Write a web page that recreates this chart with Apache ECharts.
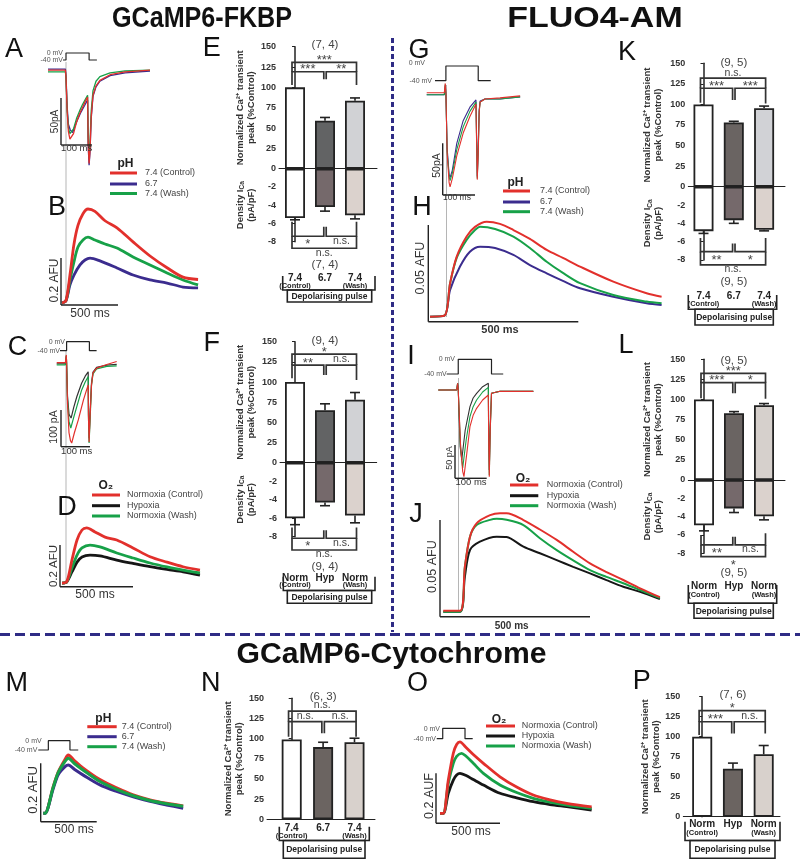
<!DOCTYPE html>
<html>
<head>
<meta charset="utf-8">
<script src="https://cdn.jsdelivr.net/npm/echarts@6.0.0/dist/echarts.min.js"></script>
<style>
html,body{margin:0;padding:0;background:#ffffff;}
#chart{width:800px;height:865px;}
</style>
</head>
<body>
<div id="chart"></div>
<script>
// ================= DATA =================
const catPH = ['7.4', '6.7', '7.4'];
const catO2 = ['Norm', 'Hyp', 'Norm'];
const catSub = ['(Control)', '', '(Wash)'];
const legPH = ['7.4 (Control)', '6.7', '7.4 (Wash)'];
const legO2 = ['Normoxia (Control)', 'Hypoxia', 'Normoxia (Wash)'];

// Bar values: normalized Ca transient peak (%Control) and I_Ca density (pA/pF), SEM
const E_ca = [100, 59, 83.5], E_caErr = [0, 4, 3.5], E_ica = [-5.4, -4.2, -5.1], E_icaErr = [0.2, 0.45, 0.4];
const F_ca = [100, 65, 78],   F_caErr = [0, 8, 9],   F_ica = [-6.0, -4.3, -5.7], F_icaErr = [0.7, 0.35, 0.8];
const K_ca = [100, 78, 95.5], K_caErr = [0, 1.5, 2.5], K_ica = [-4.85, -3.65, -4.7], K_icaErr = [0.25, 0.35, 0.12];
const L_ca = [100, 83, 93],   L_caErr = [0, 2, 2],   L_ica = [-4.95, -3.1, -3.95], L_icaErr = [0.6, 0.45, 0.4];
const N_ca = [99, 89.5, 95.5], N_caErr = [0, 6, 5];
const P_ca = [100, 60, 78],   P_caErr = [0, 7, 11];

// significance brackets [x1, x2, level, leg1End, leg2End, label]
const E_sigTop = [[-0.1,2.05,130.7,119.2,119.2,'***'],[-0.1,0.96,119.2,103,110,'***'],[1.04,2.05,119.2,110,103,'**']];
const E_sigBot = [[-0.1,0.96,-7.4,-5.8,-6.35,'*'],[1.04,2.05,-7.4,-6.35,-5.8,'n.s.'],[-0.1,2.05,-8.72,-7.4,-7.4,'n.s.']];
const E_n = [['(7, 4)', 152], ['(7, 4)', -10.55]];
const F_sigTop = [[-0.1,2.05,134.7,121,121,'*'],[-0.1,0.96,121,104.6,108.7,'**'],[1.04,2.05,121,108.7,102.5,'n.s.']];
const F_sigBot = [[-0.1,0.96,-8.17,-7.0,-7.3,'*'],[1.04,2.05,-8.17,-7.3,-7.0,'n.s.'],[-0.1,2.05,-9.44,-8.17,-8.17,'n.s.']];
const F_n = [['(9, 4)', 151], ['(9, 4)', -11.3]];
const K_sigTop = [[-0.1,2.05,131.9,119.7,119.7,'n.s.'],[-0.1,0.96,119.7,102,105.5,'***'],[1.04,2.05,119.7,105.5,101,'***']];
const K_sigBot = [[-0.1,0.96,-7.09,-5.6,-6.2,'**'],[1.04,2.05,-7.09,-6.2,-5.6,'*'],[-0.1,2.05,-8.54,-7.09,-7.09,'n.s.']];
const K_n = [['(9, 5)', 151], ['(9, 5)', -10.36]];
const L_sigTop = [[-0.1,2.05,132.5,120.9,120.9,'***'],[-0.1,0.96,120.9,101.5,107.7,'***'],[1.04,2.05,120.9,107.7,101,'*']];
const L_sigBot = [[-0.1,0.96,-7.09,-6.0,-6.2,'**'],[1.04,2.05,-7.09,-6.2,-5.8,'n.s.'],[-0.1,2.05,-8.36,-7.09,-7.09,'*']];
const L_n = [['(9, 5)', 148], ['(9, 5)', -10.17]];
const N_sigTop = [[-0.1,2.05,134.2,121,121,'n.s.'],[-0.1,0.96,121,102.4,106.6,'n.s.'],[1.04,2.05,121,106.6,102.4,'n.s.']];
const N_n = [['(6, 3)', 151.5]];
const P_sigTop = [[-0.1,2.05,132.5,118.7,118.7,'*'],[-0.1,0.96,118.7,102,104,'***'],[1.04,2.05,118.7,104,104,'n.s.']];
const P_n = [['(7, 6)', 152]];

// Traces: [time ms, current pA] or [time ms, fluorescence AFU]
const A_red = [[0,0],[58,0],[60,-8],[64,-45],[68,-66],[73,-74],[78,-76],[85,-68],[95,-56],[105,-47],[115,-40],[125,-33],[132,-29],[134,-78],[137,-100],[140,-86],[144,-50],[150,-27],[160,-17],[173,-11],[207,-5],[257,-2],[340,0]];
const A_purple = [[0,1],[58,1],[60,-6],[64,-40],[68,-58],[74,-64],[82,-67],[90,-60],[100,-52],[110,-45],[122,-38],[132,-32],[134,-82],[137,-102],[140,-88],[144,-52],[150,-28],[160,-18],[173,-12],[207,-6],[257,-3],[340,-1]];
const A_green = [[0,-2],[58,-2],[60,-9],[64,-44],[68,-62],[73,-68],[77,-70],[85,-63],[95,-52],[105,-44],[115,-37],[125,-31],[132,-27],[134,-72],[137,-93],[140,-78],[144,-44],[150,-22],[160,-12],[173,-7],[207,-3],[257,-1],[340,0]];
const A_step = [[50,-40],[60,-40],[60,0],[137,0],[137,-40],[163,-40]];

const B_red = [[0,0],[35,0.01],[70,0.12],[105,0.25],[140,0.33],[184,0.38],[228,0.40],[289,0.39],[377,0.35],[482,0.32],[623,0.26],[772,0.2],[921,0.15],[1061,0.11],[1193,0.1]];
const B_purple = [[0,0],[35,0.01],[70,0.077],[105,0.119],[158,0.162],[202,0.183],[246,0.191],[333,0.179],[482,0.149],[623,0.119],[772,0.098],[921,0.085],[1061,0.068],[1193,0.064]];
const B_green = [[0,0],[35,0.01],[70,0.098],[105,0.175],[140,0.238],[184,0.268],[228,0.28],[289,0.268],[377,0.251],[482,0.234],[623,0.196],[772,0.162],[921,0.128],[1061,0.098],[1193,0.077]];

const C_red = [[29,1],[58,1],[61,22],[62,0],[65,-110],[70,-190],[75,-212],[79,-218],[88,-190],[101,-155],[118,-101],[126,-80],[134,-60],[135,-150],[137,-215],[140,-150],[145,-60],[150,-27],[162,-14],[196,-4],[229,4]];
const C_green = [[29,-5],[58,-5],[61,20],[62,0],[65,-100],[70,-160],[76,-177],[85,-150],[96,-119],[112,-74],[124,-52],[134,-37],[135,-150],[137,-218],[140,-160],[145,-60],[150,-30],[162,-16],[196,-9],[229,-8]];
const C_black = [[29,-2],[58,-2],[61,18],[62,0],[65,-90],[70,-140],[77,-150],[86,-120],[96,-92],[112,-55],[124,-36],[134,-24],[135,-140],[137,-205],[140,-140],[145,-55],[150,-25],[162,-12],[196,-6],[229,-4]];
const C_step = [[40,-40],[62,-40],[62,0],[138,0],[138,-40],[162,-40]];

const D_red = [[0,0],[32,0.005],[68,0.11],[103,0.206],[137,0.254],[169,0.264],[226,0.245],[295,0.22],[375,0.206],[486,0.168],[603,0.126],[719,0.1],[829,0.078],[945,0.062]];
const D_black = [[0,0],[32,0.005],[68,0.053],[103,0.1],[137,0.125],[192,0.134],[260,0.13],[375,0.11],[486,0.094],[603,0.078],[719,0.065],[829,0.054],[945,0.038]];
const D_green = [[0,0],[32,0.005],[68,0.072],[103,0.134],[137,0.168],[192,0.182],[260,0.173],[375,0.144],[486,0.12],[603,0.096],[719,0.077],[829,0.062],[945,0.048]];

const G_red = [[0,-1],[55,-1],[58,8],[60,-1],[64,-60],[70,-88],[73,-92],[80,-84],[94,-62],[114,-40],[135,-24],[154,-12],[156,-50],[158,-85],[161,-60],[164,-20],[167,-10],[182,-7],[229,-6],[292,-4]];
const G_purple = [[0,-3],[55,-3],[58,6],[60,-3],[64,-55],[70,-80],[73,-83],[80,-76],[94,-50],[114,-28],[135,-15],[154,-8],[156,-45],[158,-82],[161,-55],[164,-18],[167,-9],[182,-7],[229,-7],[292,-5]];
const G_green = [[0,-3],[55,-3],[58,7],[60,-3],[64,-58],[70,-82],[73,-86],[80,-79],[94,-56],[114,-34],[135,-19],[154,-10],[156,-48],[158,-84],[161,-58],[164,-19],[167,-10],[182,-7],[229,-7],[292,-5]];
const G_step = [[26,-40],[60,-40],[60,0],[161,0],[161,-40],[200,-40]];

const H_red = [[0,0],[48,0.0005],[67,0.0173],[89,0.031],[122,0.0414],[150,0.0464],[189,0.0491],[233,0.048],[278,0.0448],[333,0.0402],[389,0.0345],[443,0.0304],[500,0.0259],[611,0.0181],[722,0.0121],[772,0.0103]];
const H_purple = [[0,0],[48,0.0005],[67,0.0138],[100,0.0259],[133,0.0336],[167,0.0362],[217,0.0355],[278,0.0319],[333,0.0267],[389,0.0224],[443,0.0185],[500,0.0147],[611,0.0103],[722,0.0069],[772,0.006]];
const H_green = [[0,0],[48,0.0005],[67,0.0173],[89,0.0304],[122,0.0397],[150,0.0448],[167,0.0465],[217,0.0453],[278,0.0414],[333,0.0355],[389,0.0284],[443,0.0226],[500,0.0173],[611,0.0112],[722,0.0078],[772,0.0069]];

const I_red = [[0,0],[58,0],[61,10],[63,0],[70,-80],[77,-122],[81,-130],[90,-95],[100,-55],[110,-38],[121,-27.5],[140,-15],[158,-7.5],[159,-70],[161,-130],[164,-60],[168,-5],[195,-2],[300,-2]];
const I_green = [[0,0],[58,0],[61,10],[63,0],[70,-85],[77,-117],[88,-75],[100,-40],[110,-25],[121,-15],[140,-3],[158,4],[159,-70],[161,-128],[164,-60],[168,-5],[195,-2],[300,-2]];
const I_black = [[0,0],[58,0],[61,10],[63,0],[69,-85],[74,-105],[85,-60],[100,-25],[110,-12],[121,-5],[140,5],[158,10],[159,-60],[161,-120],[164,-55],[168,-5],[195,-2],[300,-2]];
const I_step = [[26.5,-40],[63,-40],[63,0],[168,0],[168,-40],[205,-40]];

const J_red = [[0,0.0005],[56,0.0005],[72,0.0233],[89,0.0388],[111,0.0457],[156,0.0499],[189,0.0509],[211,0.0509],[267,0.0474],[322,0.0425],[378,0.0371],[433,0.031],[489,0.025],[544,0.0205],[600,0.0164],[656,0.0121],[722,0.0075]];
const J_black = [[0,0],[56,0],[72,0.0181],[89,0.0319],[122,0.0362],[178,0.0388],[211,0.0386],[267,0.0336],[322,0.0302],[378,0.0267],[433,0.0232],[489,0.0198],[544,0.0163],[600,0.0129],[656,0.0103],[722,0.0065]];
const J_green = [[0,0],[56,0],[72,0.0233],[89,0.0388],[111,0.0448],[156,0.0475],[178,0.048],[211,0.0475],[267,0.0448],[322,0.038],[378,0.0318],[433,0.0265],[489,0.0215],[544,0.018],[600,0.0147],[656,0.0112],[722,0.007]];

const M_red = [[0,0],[15,0],[89,0.0915],[134,0.1424],[194,0.185],[223,0.2],[280,0.18],[357,0.155],[506,0.1155],[655,0.087],[804,0.0629],[953,0.046],[1101,0.0343],[1250,0.0251]];
const M_purple = [[0,0],[15,0],[89,0.085],[134,0.133],[194,0.16],[223,0.166],[280,0.15],[357,0.131],[506,0.0972],[655,0.075],[804,0.0566],[953,0.041],[1101,0.0286],[1250,0.0171]];
const M_green = [[0,0],[15,0],[89,0.09],[134,0.14],[194,0.178],[223,0.189],[280,0.17],[357,0.148],[506,0.109],[655,0.082],[804,0.06],[953,0.044],[1101,0.033],[1250,0.024]];
const M_step = [[-45,-40],[45,-40],[45,0],[238,0],[238,-40],[312,-40]];

const O_red = [[0,0],[26,0],[65,0.133],[104,0.24],[130,0.275],[156,0.286],[200,0.265],[260,0.235],[339,0.2],[469,0.146],[599,0.105],[729,0.073],[860,0.054],[990,0.04],[1185,0.026]];
const O_black = [[0,0],[26,0],[65,0.08],[104,0.133],[130,0.153],[156,0.16],[200,0.152],[260,0.135],[339,0.113],[469,0.08],[599,0.062],[729,0.0464],[860,0.035],[990,0.0264],[1185,0.0132]];
const O_green = [[0,0],[26,0],[65,0.12],[104,0.2],[130,0.228],[169,0.24],[200,0.23],[260,0.2],[339,0.16],[469,0.113],[599,0.083],[729,0.06],[860,0.045],[990,0.033],[1185,0.02]];
const O_step = [[-26,-40],[21,-40],[21,0],[195,0],[195,-40],[255,-40]];

// ================= BUILD =================
const FONT = "'Liberation Sans', Arial, Helvetica, sans-serif";
const RED = '#e2302c', PUR = '#3b2c8e', GRN = '#17a148', BLK = '#161616', STEP = '#222222';
const grids = [], xAxes = [], yAxes = [], series = [], G = [];

function addGrid(rect, xr, yr) {
  const gi = grids.length;
  grids.push({left: rect[0], top: rect[1], width: rect[2], height: rect[3], containLabel: false, outerBoundsMode: 'none'});
  xAxes.push({type: 'value', gridIndex: gi, min: xr[0], max: xr[1], show: false});
  yAxes.push({type: 'value', gridIndex: gi, min: yr[0], max: yr[1], show: false});
  return gi;
}
function tracePanel(rect, xr, yr, traces, width, smooth) {
  const gi = addGrid(rect, xr, yr);
  traces.forEach(tr => series.push({type: 'line', xAxisIndex: gi, yAxisIndex: gi, data: tr[0], symbol: 'none', showSymbol: false,
    smooth: smooth || false, lineStyle: {color: tr[1], width: width}, silent: true, z: 3}));
}

function txtStyle(size, color, bold) {
  return {font: (bold ? 'bold ' : '') + size + 'px ' + FONT, fill: color || '#444', textAlign: 'center', textVerticalAlign: 'middle', align: 'center', verticalAlign: 'middle'};
}

function addBars(g, vals, errs, cols) {
  series.push({type: 'bar', xAxisIndex: g, yAxisIndex: g, barWidth: 20, silent: true, z: 3,
    data: vals.map((v, i) => ({value: [i, v], itemStyle: {color: cols[i], borderColor: '#222', borderWidth: 1.8}}))});
  series.push({type: 'custom', xAxisIndex: g, yAxisIndex: g, silent: true, z: 5, clip: false,
    data: vals.map((v, i) => [i, v, errs[i]]),
    renderItem: function (params, api) {
      const x = api.value(0), v = api.value(1), e = api.value(2);
      if (!e) return {type: 'group', children: []};
      const s = v < 0 ? -1 : 1;
      const p1 = api.coord([x, v]), p2 = api.coord([x, v + s * e]);
      return {type: 'group', children: [
        {type: 'line', shape: {x1: p1[0], y1: p1[1], x2: p2[0], y2: p2[1]}, style: {stroke: '#222', lineWidth: 1.6}},
        {type: 'line', shape: {x1: p2[0] - 5, y1: p2[1], x2: p2[0] + 5, y2: p2[1]}, style: {stroke: '#222', lineWidth: 1.6}}
      ]};
    }});
}

function sigSeries(g, specs, ntext, dir) {
  const items = specs.map(s => ({k: 'b', x1: s[0], x2: s[1], y: s[2], l1: s[3], l2: s[4], t: s[5]}));
  items.push({k: 'n', x1: 1, y: ntext[1], t: ntext[0]});
  series.push({type: 'custom', xAxisIndex: g, yAxisIndex: g, silent: true, clip: false, z: 6,
    data: items.map(s => [s.x1, s.y]),
    renderItem: function (params, api) {
      const s = items[params.dataIndex];
      if (s.k === 'n') {
        const p = api.coord([s.x1, s.y]);
        return {type: 'text', style: Object.assign({text: s.t, x: p[0], y: p[1]}, txtStyle(11.5, '#444'))};
      }
      const a = api.coord([s.x1, s.y]), b = api.coord([s.x2, s.y]);
      const la = api.coord([s.x1, s.l1]), lb = api.coord([s.x2, s.l2]);
      const star = s.t.indexOf('*') >= 0;
      const off = dir === 'up' ? (star ? -2 : -5.5) : (star ? 8.5 : 4.5);
      return {type: 'group', children: [
        {type: 'polyline', shape: {points: [[a[0], la[1]], [a[0], a[1]], [b[0], b[1]], [b[0], lb[1]]]}, style: {stroke: '#333', fill: 'none', lineWidth: 1.7}},
        {type: 'text', style: Object.assign({text: s.t, x: (a[0] + b[0]) / 2, y: a[1] + off}, txtStyle(star ? 13 : 10.5, '#444'))}
      ]};
    }});
}

function barPanel(L, ca, caErr, ica, icaErr, topCol, botCol, sigTop, sigBot, ns) {
  const xmin = -(L.first - L.axisX) / L.sp, xmax = (L.right - L.first) / L.sp;
  const w = L.right - L.axisX;
  const axisLineY = {show: true, lineStyle: {color: '#222', width: 1.5}};
  const tickY = {show: true, length: 3, lineStyle: {color: '#222', width: 1}};
  const lblY = {show: true, fontSize: 9, fontWeight: 'bold', color: '#333', fontFamily: FONT, margin: 3};
  const nameStyle = {fontSize: 9.5, fontWeight: 'bold', color: '#333', fontFamily: FONT, lineHeight: 11};
  const gt = grids.length;
  grids.push({left: L.axisX, top: L.y150, width: w, height: L.y0 - L.y150, containLabel: false, outerBoundsMode: 'none'});
  xAxes.push({type: 'value', gridIndex: gt, min: xmin, max: xmax, axisLine: {show: true, onZero: false, lineStyle: {color: '#222', width: 1}},
    axisTick: {show: false}, axisLabel: {show: false}, splitLine: {show: false}});
  yAxes.push({type: 'value', gridIndex: gt, min: 0, max: 150, interval: 25, axisLine: axisLineY, axisTick: tickY, axisLabel: lblY,
    splitLine: {show: false}, name: 'Normalized Ca²⁺ transient\npeak (%Control)', nameLocation: 'middle', nameGap: L.gapT, nameRotate: 90, nameTextStyle: nameStyle});
  addBars(gt, ca, caErr, topCol);
  sigSeries(gt, sigTop, ns[0], 'up');
  if (ica) {
    const gb = grids.length;
    grids.push({left: L.axisX, top: L.y0, width: w, height: L.y8 - L.y0, containLabel: false, outerBoundsMode: 'none'});
    xAxes.push({type: 'value', gridIndex: gb, min: xmin, max: xmax, show: false});
    const richBase = {fontSize: 9.5, fontWeight: 'bold', color: '#333', fontFamily: FONT, lineHeight: 11};
    yAxes.push({type: 'value', gridIndex: gb, min: -8, max: 0, interval: 2, axisLine: axisLineY, axisTick: tickY,
      axisLabel: Object.assign({}, lblY, {formatter: v => (v === 0 ? '' : String(v))}), splitLine: {show: false},
      name: '{a|Density I}{s|Ca}\n{a|(pA/pF)}', nameLocation: 'middle', nameGap: L.gapB, nameRotate: 90,
      nameTextStyle: Object.assign({}, nameStyle, {rich: {a: richBase, s: Object.assign({}, richBase, {fontSize: 6.5, verticalAlign: 'bottom'})}})});
    addBars(gb, ica, icaErr, botCol);
    sigSeries(gb, sigBot, ns[1], 'down');
  }
}

// ---------- graphic helpers (annotations) ----------
function txt(x, y, t, o) {
  o = o || {};
  const al = o.align || 'center', va = o.va || 'middle';
  G.push({type: 'text', x: x, y: y, rotation: o.rot || 0, scaleX: o.sx || 1, z: o.z || 20, silent: true,
    style: {text: t, x: 0, y: 0, font: (o.bold ? 'bold ' : '') + (o.size || 10) + 'px ' + FONT, fill: o.color || '#222',
      textAlign: al, textVerticalAlign: va, align: al, verticalAlign: va}});
}
function ln(x1, y1, x2, y2, o) {
  o = o || {};
  const st = {stroke: o.color || '#222', lineWidth: o.w || 1.5};
  if (o.dash) st.lineDash = o.dash;
  G.push({type: 'line', z: o.z || 20, silent: true, shape: {x1: x1, y1: y1, x2: x2, y2: y2}, style: st});
}
function pl(points, o) {
  o = o || {};
  G.push({type: 'polyline', z: 20, silent: true, shape: {points: points}, style: {stroke: o.color || '#222', lineWidth: o.w || 1.6, fill: 'none'}});
}
function box(x1, y1, x2, y2) {
  G.push({type: 'rect', z: 19, silent: true, shape: {x: x1, y: y1, width: x2 - x1, height: y2 - y1}, style: {fill: '#fff', stroke: '#222', lineWidth: 1.6}});
}
function legend(title, tx, ty, colors, labels, lx1, lx2, textX, ys) {
  txt(tx, ty, title, {bold: 1, size: 12});
  colors.forEach((c, i) => {
    ln(lx1, ys[i], lx2, ys[i], {color: c, w: 3});
    txt(textX, ys[i], labels[i], {size: 9, align: 'left', color: '#444'});
  });
}
function sbar(x, yTop, yBot, xRight, vLab, vx, vy, vs, hLab, hx, hy, hs, hb) {
  ln(x, yTop, x, yBot, {w: 1.4});
  ln(x, yBot, xRight, yBot, {w: 1.4});
  txt(vx, vy, vLab, {rot: Math.PI / 2, size: vs, color: '#333'});
  txt(hx, hy, hLab, {size: hs, bold: hb, color: '#333'});
}
function stepLabels(x0, y0, x40, y40) {
  txt(x0, y0, '0 mV', {size: 7, align: 'right', color: '#555'});
  txt(x40, y40, '-40 mV', {size: 7, align: 'right', color: '#555'});
}
function catDeco(L, cats, y1, y2, xa, xb, yT, yB, bx1, bx2, by2) {
  cats.forEach((c, i) => {
    const cx = L.first + i * L.sp;
    txt(cx, y1, c, {bold: 1, size: 10, color: '#222'});
    if (catSub[i]) txt(cx, y2, catSub[i], {bold: 1, size: 7.5, color: '#222'});
  });
  pl([[xa, yT], [xa, yB], [xb, yB], [xb, yT]]);
  box(bx1, yB, bx2, by2);
  txt((bx1 + bx2) / 2, (yB + by2) / 2 + 0.5, 'Depolarising pulse', {bold: 1, size: 8.5, color: '#222'});
}

// ---------- trace panels ----------
tracePanel([48, 49.5, 104.1, 118.6], [0, 347], [-105, 22], [[A_purple, PUR], [A_green, GRN], [A_red, RED]], 1.3);
tracePanel([48, 50, 104.1, 14], [0, 347], [-63, 17], [[A_step, STEP]], 1.2);
tracePanel([62, 197.25, 138, 110.45], [0, 1210], [-0.02, 0.45], [[B_purple, PUR], [B_green, GRN], [B_red, RED]], 2.8, 0.3);
tracePanel([48, 337.3, 104.1, 113.8], [0, 347], [-240, 70], [[C_black, '#333'], [C_green, GRN], [C_red, RED]], 1.2);
tracePanel([48, 338, 104.1, 16], [0, 347], [-54.7, 16.4], [[C_step, STEP]], 1.2);
tracePanel([62, 520.4, 138.7, 66.8], [0, 950], [-0.02, 0.3], [[D_black, BLK], [D_green, GRN], [D_red, RED]], 2.8, 0.3);
tracePanel([426.7, 61.7, 96, 138.6], [0, 300], [-105, 29], [[G_purple, PUR], [G_green, GRN], [G_red, RED]], 1.1);
tracePanel([426.7, 62, 96, 22], [0, 300], [-49, 10.9], [[G_step, STEP]], 1.2);
tracePanel([430, 216.1, 232.5, 104.4], [0, 775], [-0.002, 0.052], [[H_purple, PUR], [H_green, GRN], [H_red, RED]], 2, 0.3);
tracePanel([438.3, 352, 95, 130], [0, 300], [-138, 57], [[I_black, '#333'], [I_green, GRN], [I_red, RED]], 1.1);
tracePanel([438.3, 355, 95, 22], [0, 300], [-48.2, 11.7], [[I_step, STEP]], 1.2);
tracePanel([443.3, 509.2, 217.5, 108.3], [0, 725], [-0.003, 0.053], [[J_black, BLK], [J_green, GRN], [J_red, RED]], 2, 0.3);
tracePanel([43.3, 749.2, 141, 72.8], [0, 1260], [-0.03, 0.22], [[M_red, RED], [M_purple, PUR], [M_green, GRN]], 3, 0.3);
tracePanel([37.7, 737, 146.7, 16], [-50, 1260], [-52.9, 15.9], [[M_step, STEP]], 1.2);
tracePanel([440, 738.3, 152.3, 82.5], [0, 1190], [-0.03, 0.3], [[O_black, BLK], [O_green, GRN], [O_red, RED]], 2.8, 0.3);
tracePanel([436.2, 725, 156.2, 17], [-30, 1190], [-52.7, 12.7], [[O_step, STEP]], 1.2);

// ---------- bar panels ----------
const LAY = {
  E: {axisX: 279, y150: 46.7, y0: 168.7, y8: 241.7, first: 295, sp: 30, right: 377, gapT: 22, gapB: 22},
  F: {axisX: 280, y150: 341.7, y0: 462.7, y8: 536.7, first: 295, sp: 30, right: 376.7, gapT: 23, gapB: 23},
  K: {axisX: 688.3, y150: 63.3, y0: 186.7, y8: 260, first: 703.5, sp: 30.3, right: 785, gapT: 24, gapB: 24},
  L: {axisX: 688.3, y150: 359.3, y0: 480, y8: 553.3, first: 704, sp: 30, right: 785, gapT: 24, gapB: 24},
  N: {axisX: 267, y150: 698.3, y0: 819.3, first: 291.7, sp: 31.4, right: 375, gapT: 13},
  P: {axisX: 683.3, y150: 696.7, y0: 816.7, first: 702.2, sp: 30.75, right: 780, gapT: 21}
};
const colTopEF = ['#ffffff', '#626364', '#d1d2d5'], colBot = ['#ffffff', '#75696b', '#dbd2cd'];
const colTopK = ['#ffffff', '#6a6462', '#d1d2d6'], colTopL = ['#ffffff', '#6a6462', '#d6d0cc'], colNP = ['#ffffff', '#6b6461', '#d8d1cc'];
barPanel(LAY.E, E_ca, E_caErr, E_ica, E_icaErr, colTopEF, colBot, E_sigTop, E_sigBot, E_n);
barPanel(LAY.F, F_ca, F_caErr, F_ica, F_icaErr, colTopEF, colBot, F_sigTop, F_sigBot, F_n);
barPanel(LAY.K, K_ca, K_caErr, K_ica, K_icaErr, colTopK, colBot, K_sigTop, K_sigBot, K_n);
barPanel(LAY.L, L_ca, L_caErr, L_ica, L_icaErr, colTopL, colBot, L_sigTop, L_sigBot, L_n);
barPanel(LAY.N, N_ca, N_caErr, null, null, colNP, null, N_sigTop, null, N_n);
barPanel(LAY.P, P_ca, P_caErr, null, null, colNP, null, P_sigTop, null, P_n);

catDeco(LAY.E, catPH, 278, 285.5, 282.7, 375, 276, 290, 287.3, 371.7, 302);
catDeco(LAY.F, catO2, 578.3, 585.3, 283.3, 375, 576.7, 590.5, 287.3, 371.7, 603.3);
catDeco(LAY.K, catPH, 296.7, 304, 688.3, 776.7, 295, 309.3, 695, 773.3, 325);
catDeco(LAY.L, catO2, 586.7, 595, 688.3, 776.7, 585, 603.3, 694, 773.3, 618.3);
catDeco(LAY.N, catPH, 828.3, 835.5, 279.3, 369.3, 826.7, 840.5, 283.3, 365, 858.3);
catDeco(LAY.P, catO2, 824.3, 832.7, 685, 780, 821.7, 840.5, 690, 775, 858.3);

// ---------- titles, letters, dividers ----------
txt(202, 18.5, 'GCaMP6-FKBP', {bold: 1, size: 29, sx: 0.866, color: '#111'});
txt(595, 18.5, 'FLUO4-AM', {bold: 1, size: 29, sx: 1.17, color: '#111'});
txt(391.5, 655, 'GCaMP6-Cytochrome', {bold: 1, size: 29, sx: 1.04, color: '#111'});
[['A', 14, 50], ['B', 57, 208], ['C', 17.5, 347.5], ['D', 67, 508], ['E', 211.7, 49], ['F', 211.7, 344],
 ['G', 419, 51], ['H', 422, 208], ['I', 411, 357], ['J', 416, 515], ['K', 627, 52.5], ['L', 626, 346],
 ['M', 16.7, 683.3], ['N', 210.8, 683.3], ['O', 417.5, 683.3], ['P', 641.7, 682]].forEach(l => txt(l[1], l[2], l[0], {size: 27, color: '#111'}));
ln(392.5, 38, 392.5, 632, {color: '#2e2b85', w: 3, dash: [5, 3]});
ln(0, 634.5, 800, 634.5, {color: '#2e2b85', w: 3, dash: [10, 5]});

// gray alignment guides
ln(66, 62, 66, 303, {color: '#b5b5b5', w: 1, z: 1});
ln(66, 350, 66, 583, {color: '#b5b5b5', w: 1, z: 1});
ln(446.5, 85, 446.5, 317, {color: '#b5b5b5', w: 1, z: 1});
ln(458.5, 378, 458.5, 612, {color: '#b5b5b5', w: 1, z: 1});

// scale bars
sbar(61, 98, 145, 92, '50pA', 55.5, 121.5, 10, '100 ms', 76.7, 148.5, 9.5, 0);
sbar(61, 258, 305, 118, '0.2 AFU', 54.5, 280.5, 12, '500 ms', 90, 313.3, 12, 0);
sbar(61, 410, 446.7, 90, '100 pA', 54, 427, 10.5, '100 ms', 76.7, 451.7, 9.5, 0);
sbar(60, 545, 586.7, 133, '0.2 AFU', 54.3, 566, 11.5, '500 ms', 95, 594.5, 12, 0);
sbar(442.7, 143.3, 195, 475, '50pA', 437.3, 165.5, 10.5, '100 ms', 457, 197.5, 8.5, 0);
sbar(428.3, 225, 321.7, 578.3, '0.05 AFU', 420.7, 268, 12.5, '500 ms', 500, 329.5, 11, 1);
sbar(455, 445, 478.3, 486.7, '50 pA', 450, 458, 9, '100 ms', 471, 482.7, 9.5, 0);
sbar(440, 520, 616.7, 590, '0.05 AFU', 432.7, 566.7, 12.5, '500 ms', 511.7, 626, 10, 1);
sbar(40.7, 763.3, 821.7, 96.7, '0.2 AFU', 33.5, 790, 13, '500 ms', 74, 830, 12, 0);
sbar(436, 773.3, 823.3, 500, '0.2 AUF', 429.3, 796, 12.5, '500 ms', 471, 831.7, 12, 0);

// step labels
stepLabels(63, 53, 63, 60);
stepLabels(65, 341.7, 60, 350.7);
stepLabels(425, 63.3, 432, 80.7);
stepLabels(455, 359.3, 446.7, 374);
stepLabels(41.7, 740.7, 37.3, 750);
stepLabels(440, 729.3, 436, 738.7);

// legends
legend('pH', 125.5, 164, [RED, PUR, GRN], legPH, 110, 137, 145, [173, 184, 193.5]);
legend('O₂', 105.8, 486, [RED, BLK, GRN], legO2, 92, 120, 127, [495, 505.7, 516]);
legend('pH', 515.5, 182.5, [RED, PUR, GRN], legPH, 503, 530, 540, [191, 202, 211.7]);
legend('O₂', 523, 478.5, [RED, BLK, GRN], legO2, 510, 538.3, 546.7, [485, 495.7, 505.7]);
legend('pH', 103.3, 719, [RED, PUR, GRN], legPH, 87.3, 116.7, 121.7, [726.7, 736.7, 746.7]);
legend('O₂', 499, 719.5, [RED, BLK, GRN], legO2, 486, 515, 521.7, [726, 736, 746]);

const chart = echarts.init(document.getElementById('chart'), null, {renderer: 'canvas', width: 800, height: 865});
chart.setOption({
  animation: false,
  backgroundColor: '#ffffff',
  textStyle: {fontFamily: FONT},
  grid: grids,
  xAxis: xAxes,
  yAxis: yAxes,
  series: series,
  graphic: {elements: G}
});
</script>
</body>
</html>
